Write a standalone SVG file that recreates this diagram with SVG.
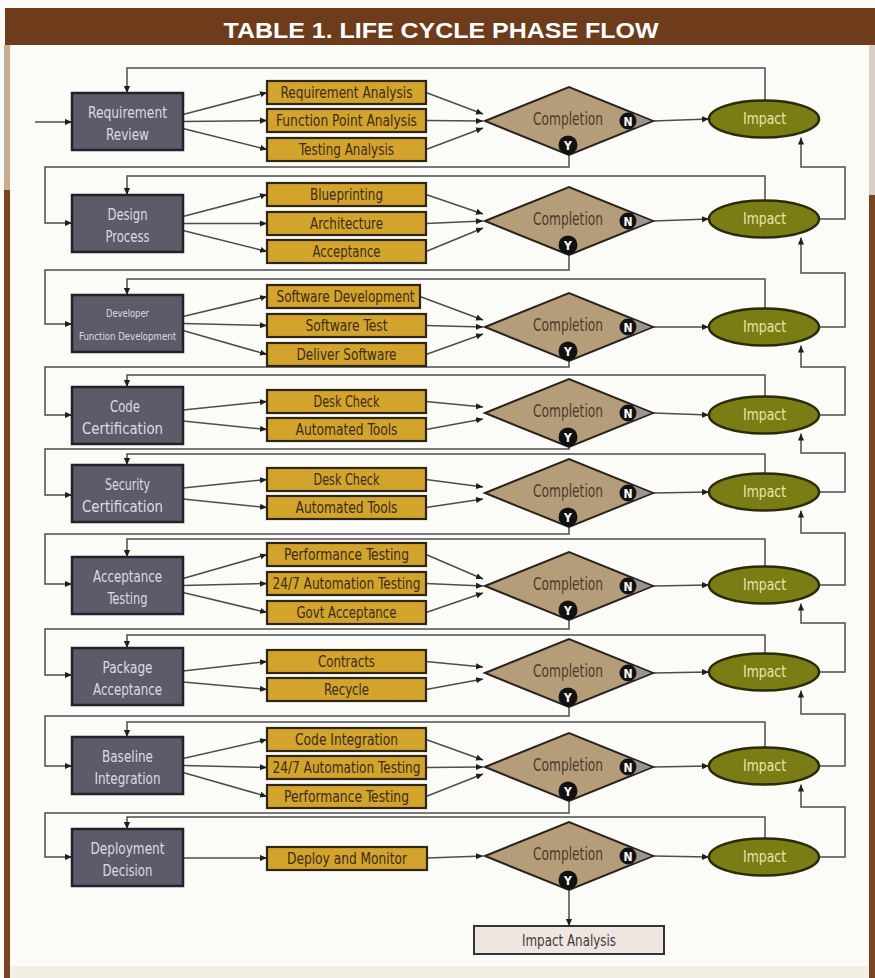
<svg xmlns="http://www.w3.org/2000/svg" width="875" height="978" viewBox="0 0 875 978">
  <defs>
    <style>
      .ph rect { fill: #5d5a6a; stroke: #232228; stroke-width: 2.5; }
      .ph text { fill: #dcdbe4; font-size: 16px; text-anchor: middle; }
      .ph text.sm { font-size: 10px; }
      .tk rect { fill: #d3a42b; stroke: #2e2610; stroke-width: 2.2; }
      .tk text { fill: #3a2b0b; font-size: 16px; text-anchor: middle; }
      .dm polygon { fill: #b69d7a; stroke: #2b241d; stroke-width: 2; }
      .dm polygon.tip { fill: #9a968e; stroke: none; }
      .dm text.lbl { fill: #4a3a26; font-size: 17px; text-anchor: middle; }
      .dm circle { fill: #111111; }
      .dm text.yn { fill: #ffffff; font-size: 12px; font-weight: bold; text-anchor: middle; }
      .ip ellipse { fill: #7a7c14; stroke: #2b2b08; stroke-width: 2.5; }
      .ip text { fill: #ebe6ab; font-size: 16px; text-anchor: middle; }
      .fin rect { fill: #efe7df; stroke: #333333; stroke-width: 2; }
      .fin text { fill: #3a3a3a; font-size: 16px; text-anchor: middle; }
      text { font-family: "Liberation Sans Narrow", "DejaVu Sans Condensed", "Liberation Sans", sans-serif; }
      #connectors path { fill: none; stroke: #4d4d4d; stroke-width: 1.5; }
      #connectors path.ar { marker-end: url(#ah); }
    </style>
    <marker id="ah" viewBox="0 0 8 8" refX="8" refY="4" markerWidth="7" markerHeight="7" markerUnits="userSpaceOnUse" orient="auto">
      <path d="M0,0.5 L8,4 L0,7.5 Z" fill="#1e1e1e"/>
    </marker>
  </defs>

  <!-- page and frame -->
  <rect x="0" y="0" width="875" height="978" fill="#fbfbf8"/>
  <rect x="5" y="8" width="870" height="37" fill="#6e3c1b"/>
  <rect x="4" y="45" width="6" height="145" fill="#c8ab8f"/>
  <rect x="4" y="190" width="6" height="788" fill="#7a4420"/>
  <rect x="869" y="45" width="6" height="150" fill="#d9cfc6"/>
  <rect x="869" y="195" width="6" height="783" fill="#7a4420"/>
  <rect x="10" y="966" width="859" height="12" fill="#f3eee6"/>
  <text x="441" y="38" font-size="22" font-weight="bold" fill="#ffffff" text-anchor="middle" textLength="435" lengthAdjust="spacingAndGlyphs" style="font-family: 'Liberation Sans', sans-serif;">TABLE 1. LIFE CYCLE PHASE FLOW</text>

  <!-- connectors -->
  <g id="connectors">
    <!-- row 1 -->
    <path class="ar" d="M35,122 H72"/>
    <path class="ar" d="M183,114.5 L267,92.5"/>
    <path class="ar" d="M183,121.5 L267,120.5"/>
    <path class="ar" d="M183,128.5 L267,149.5"/>
    <path class="ar" d="M426,92.5 L483,114"/>
    <path class="ar" d="M426,120.5 L483,121"/>
    <path class="ar" d="M426,149.5 L483,128"/>
    <path class="ar" d="M653,121 L709,119"/>
    <path class="ar" d="M765,100.5 V68 H127 V93"/>
    <path class="ar" d="M569,155 V167 H45 V223 H72"/>
    <!-- row 2 -->
    <path class="ar" d="M183,216.5 L267,194.5"/>
    <path class="ar" d="M183,223.5 L267,223.5"/>
    <path class="ar" d="M183,230.5 L267,251.5"/>
    <path class="ar" d="M426,194.5 L483,214"/>
    <path class="ar" d="M426,223.5 L483,221"/>
    <path class="ar" d="M426,251.5 L483,228"/>
    <path class="ar" d="M653,221 L709,219"/>
    <path class="ar" d="M765,200.5 V176 H127 V195"/>
    <path class="ar" d="M569,255 V270 H45 V324 H72"/>
    <path class="ar" d="M819,219 H845 V167 H801 V137.5"/>
    <!-- row 3 -->
    <path class="ar" d="M183,316.5 L267,296.5"/>
    <path class="ar" d="M183,323.5 L267,325.5"/>
    <path class="ar" d="M183,330.5 L267,354.5"/>
    <path class="ar" d="M420,296.5 L483,320"/>
    <path class="ar" d="M426,325.5 L483,327"/>
    <path class="ar" d="M426,354.5 L483,334"/>
    <path class="ar" d="M653,327 L709,327"/>
    <path class="ar" d="M765,308.5 V279 H127 V295"/>
    <path class="ar" d="M569,361 V367 H45 V415 H72"/>
    <path class="ar" d="M819,327 H845 V273 H801 V237.5"/>
    <!-- row 4 -->
    <path class="ar" d="M183,410 L267,401.5"/>
    <path class="ar" d="M183,421 L267,429.5"/>
    <path class="ar" d="M426,401.5 L483,407"/>
    <path class="ar" d="M426,429.5 L483,419"/>
    <path class="ar" d="M653,413 L709,415"/>
    <path class="ar" d="M765,396.5 V375 H127 V387"/>
    <path class="ar" d="M569,447 V449 H45 V495 H72"/>
    <path class="ar" d="M819,415 H845 V367 H801 V345.5"/>
    <!-- row 5 -->
    <path class="ar" d="M183,488 L267,479.5"/>
    <path class="ar" d="M183,499 L267,507.5"/>
    <path class="ar" d="M426,479.5 L483,487"/>
    <path class="ar" d="M426,507.5 L483,499"/>
    <path class="ar" d="M653,493 L709,492"/>
    <path class="ar" d="M765,473.5 V454 H127 V465"/>
    <path class="ar" d="M569,527 V534 H45 V584 H72"/>
    <path class="ar" d="M819,492 H845 V453 H801 V433.5"/>
    <!-- row 6 -->
    <path class="ar" d="M183,578.5 L267,554.5"/>
    <path class="ar" d="M183,585.5 L267,583.5"/>
    <path class="ar" d="M183,592.5 L267,612.5"/>
    <path class="ar" d="M426,554.5 L483,579"/>
    <path class="ar" d="M426,583.5 L483,586"/>
    <path class="ar" d="M426,612.5 L483,593"/>
    <path class="ar" d="M653,586 L709,585"/>
    <path class="ar" d="M765,566.5 V539 H127 V557"/>
    <path class="ar" d="M569,620 V629 H45 V675 H72"/>
    <path class="ar" d="M819,585 H845 V533 H801 V510.5"/>
    <!-- row 7 -->
    <path class="ar" d="M183,671 L267,661.5"/>
    <path class="ar" d="M183,682 L267,689.5"/>
    <path class="ar" d="M426,661.5 L483,667"/>
    <path class="ar" d="M426,689.5 L483,679"/>
    <path class="ar" d="M653,673 L709,672"/>
    <path class="ar" d="M765,653.5 V635 H127 V648"/>
    <path class="ar" d="M569,707 V716 H45 V766 H72"/>
    <path class="ar" d="M819,672 H845 V623 H801 V603.5"/>
    <!-- row 8 -->
    <path class="ar" d="M183,758.5 L267,739.5"/>
    <path class="ar" d="M183,765.5 L267,767.5"/>
    <path class="ar" d="M183,772.5 L267,796.5"/>
    <path class="ar" d="M426,739.5 L483,760"/>
    <path class="ar" d="M426,767.5 L483,767"/>
    <path class="ar" d="M426,796.5 L483,774"/>
    <path class="ar" d="M653,767 L709,766"/>
    <path class="ar" d="M765,747.5 V722 H127 V737"/>
    <path class="ar" d="M569,801 V813 H45 V857 H72"/>
    <path class="ar" d="M819,766 H845 V714 H801 V690.5"/>
    <!-- row 9 -->
    <path class="ar" d="M183,858 H267"/>
    <path class="ar" d="M427,858 L483,856"/>
    <path class="ar" d="M653,856 L709,857"/>
    <path class="ar" d="M765,838.5 V817 H127 V829"/>
    <path class="ar" d="M569,890 V926"/>
    <path class="ar" d="M819,857 H845 V807 H801 V784.5"/>
  </g>

  <!-- phase boxes -->
  <g id="phase-requirement-review" class="ph">
    <rect x="72" y="93" width="111" height="57"/>
    <text x="127.5" y="118" textLength="79" lengthAdjust="spacingAndGlyphs">Requirement</text>
    <text x="127.5" y="140" textLength="43" lengthAdjust="spacingAndGlyphs">Review</text>
  </g>
  <g id="phase-design-process" class="ph">
    <rect x="72" y="195" width="111" height="57"/>
    <text x="127.5" y="220" textLength="40" lengthAdjust="spacingAndGlyphs">Design</text>
    <text x="127.5" y="242" textLength="44" lengthAdjust="spacingAndGlyphs">Process</text>
  </g>
  <g id="phase-developer" class="ph">
    <rect x="72" y="295" width="111" height="57"/>
    <text class="sm" x="127.5" y="316.5" textLength="43" lengthAdjust="spacingAndGlyphs">Developer</text>
    <text class="sm" x="127.5" y="339.5" textLength="97" lengthAdjust="spacingAndGlyphs">Function Development</text>
  </g>
  <g id="phase-code-certification" class="ph">
    <rect x="72" y="387" width="111" height="57"/>
    <text x="125" y="412" textLength="30" lengthAdjust="spacingAndGlyphs">Code</text>
    <text x="122.5" y="434" textLength="81" lengthAdjust="spacingAndGlyphs">Certification</text>
  </g>
  <g id="phase-security-certification" class="ph">
    <rect x="72" y="465" width="111" height="57"/>
    <text x="127.5" y="490" textLength="45" lengthAdjust="spacingAndGlyphs">Security</text>
    <text x="122.5" y="512" textLength="81" lengthAdjust="spacingAndGlyphs">Certification</text>
  </g>
  <g id="phase-acceptance-testing" class="ph">
    <rect x="72" y="557" width="111" height="57"/>
    <text x="127.5" y="582" textLength="69" lengthAdjust="spacingAndGlyphs">Acceptance</text>
    <text x="127.5" y="604" textLength="40" lengthAdjust="spacingAndGlyphs">Testing</text>
  </g>
  <g id="phase-package-acceptance" class="ph">
    <rect x="72" y="648" width="111" height="57"/>
    <text x="127.5" y="673" textLength="50" lengthAdjust="spacingAndGlyphs">Package</text>
    <text x="127.5" y="695" textLength="69" lengthAdjust="spacingAndGlyphs">Acceptance</text>
  </g>
  <g id="phase-baseline-integration" class="ph">
    <rect x="72" y="737" width="111" height="57"/>
    <text x="127.5" y="762" textLength="51" lengthAdjust="spacingAndGlyphs">Baseline</text>
    <text x="127.5" y="784" textLength="66" lengthAdjust="spacingAndGlyphs">Integration</text>
  </g>
  <g id="phase-deployment-decision" class="ph">
    <rect x="72" y="829" width="111" height="57"/>
    <text x="127.5" y="854" textLength="74" lengthAdjust="spacingAndGlyphs">Deployment</text>
    <text x="127.5" y="876" textLength="50" lengthAdjust="spacingAndGlyphs">Decision</text>
  </g>

  <!-- task boxes -->
  <g id="task-requirement-analysis" class="tk"><rect x="267" y="81" width="159" height="23"/><text x="346.5" y="98" textLength="132" lengthAdjust="spacingAndGlyphs">Requirement Analysis</text></g>
  <g id="task-function-point-analysis" class="tk"><rect x="267" y="109" width="159" height="23"/><text x="346.5" y="126" textLength="141" lengthAdjust="spacingAndGlyphs">Function Point Analysis</text></g>
  <g id="task-testing-analysis" class="tk"><rect x="267" y="138" width="159" height="23"/><text x="346.5" y="155" textLength="95" lengthAdjust="spacingAndGlyphs">Testing Analysis</text></g>

  <g id="task-blueprinting" class="tk"><rect x="267" y="183" width="159" height="23"/><text x="346.5" y="200" textLength="73" lengthAdjust="spacingAndGlyphs">Blueprinting</text></g>
  <g id="task-architecture" class="tk"><rect x="267" y="212" width="159" height="23"/><text x="346.5" y="229" textLength="73" lengthAdjust="spacingAndGlyphs">Architecture</text></g>
  <g id="task-acceptance" class="tk"><rect x="267" y="240" width="159" height="23"/><text x="346.5" y="257" textLength="68" lengthAdjust="spacingAndGlyphs">Acceptance</text></g>

  <g id="task-software-development" class="tk"><rect x="267" y="285" width="153" height="23"/><text x="345.5" y="302" textLength="138" lengthAdjust="spacingAndGlyphs">Software Development</text></g>
  <g id="task-software-test" class="tk"><rect x="267" y="314" width="159" height="23"/><text x="346.5" y="331" textLength="82" lengthAdjust="spacingAndGlyphs">Software Test</text></g>
  <g id="task-deliver-software" class="tk"><rect x="267" y="343" width="159" height="23"/><text x="346.5" y="360" textLength="100" lengthAdjust="spacingAndGlyphs">Deliver Software</text></g>

  <g id="task-code-desk-check" class="tk"><rect x="267" y="390" width="159" height="23"/><text x="346.5" y="407" textLength="66" lengthAdjust="spacingAndGlyphs">Desk Check</text></g>
  <g id="task-code-automated-tools" class="tk"><rect x="267" y="418" width="159" height="23"/><text x="346.5" y="435" textLength="102" lengthAdjust="spacingAndGlyphs">Automated Tools</text></g>

  <g id="task-security-desk-check" class="tk"><rect x="267" y="468" width="159" height="23"/><text x="346.5" y="485" textLength="66" lengthAdjust="spacingAndGlyphs">Desk Check</text></g>
  <g id="task-security-automated-tools" class="tk"><rect x="267" y="496" width="159" height="23"/><text x="346.5" y="513" textLength="102" lengthAdjust="spacingAndGlyphs">Automated Tools</text></g>

  <g id="task-acc-performance-testing" class="tk"><rect x="267" y="543" width="159" height="23"/><text x="346.5" y="560" textLength="125" lengthAdjust="spacingAndGlyphs">Performance Testing</text></g>
  <g id="task-acc-automation-testing" class="tk"><rect x="267" y="572" width="159" height="23"/><text x="346.5" y="589" textLength="148" lengthAdjust="spacingAndGlyphs">24/7 Automation Testing</text></g>
  <g id="task-govt-acceptance" class="tk"><rect x="267" y="601" width="159" height="23"/><text x="346.5" y="618" textLength="100" lengthAdjust="spacingAndGlyphs">Govt Acceptance</text></g>

  <g id="task-contracts" class="tk"><rect x="267" y="650" width="159" height="23"/><text x="346.5" y="667" textLength="57" lengthAdjust="spacingAndGlyphs">Contracts</text></g>
  <g id="task-recycle" class="tk"><rect x="267" y="678" width="159" height="23"/><text x="346.5" y="695" textLength="45" lengthAdjust="spacingAndGlyphs">Recycle</text></g>

  <g id="task-code-integration" class="tk"><rect x="267" y="728" width="159" height="23"/><text x="346.5" y="745" textLength="103" lengthAdjust="spacingAndGlyphs">Code Integration</text></g>
  <g id="task-bl-automation-testing" class="tk"><rect x="267" y="756" width="159" height="23"/><text x="346.5" y="773" textLength="148" lengthAdjust="spacingAndGlyphs">24/7 Automation Testing</text></g>
  <g id="task-bl-performance-testing" class="tk"><rect x="267" y="785" width="159" height="23"/><text x="346.5" y="802" textLength="125" lengthAdjust="spacingAndGlyphs">Performance Testing</text></g>

  <g id="task-deploy-and-monitor" class="tk"><rect x="267" y="847" width="160" height="23"/><text x="347" y="864" textLength="120" lengthAdjust="spacingAndGlyphs">Deploy and Monitor</text></g>

  <!-- completion decisions: diamond, grey tip behind the N badge, Y badge at the bottom -->
  <g id="completion-1" class="dm"><polygon points="485,121 569,87 653,121 569,155"/><polygon class="tip" points="634,114 651,121 634,128"/><text class="lbl" x="568" y="125" textLength="70" lengthAdjust="spacingAndGlyphs">Completion</text><circle cx="628" cy="121" r="8.5"/><text class="yn" x="628" y="125.5">N</text><circle cx="568" cy="145" r="9.5"/><text class="yn" x="568" y="149.5">Y</text></g>
  <g id="completion-2" class="dm"><polygon points="485,221 569,187 653,221 569,255"/><polygon class="tip" points="634,214 651,221 634,228"/><text class="lbl" x="568" y="225" textLength="70" lengthAdjust="spacingAndGlyphs">Completion</text><circle cx="628" cy="221" r="8.5"/><text class="yn" x="628" y="225.5">N</text><circle cx="568" cy="245" r="9.5"/><text class="yn" x="568" y="249.5">Y</text></g>
  <g id="completion-3" class="dm"><polygon points="485,327 569,293 653,327 569,361"/><polygon class="tip" points="634,320 651,327 634,334"/><text class="lbl" x="568" y="331" textLength="70" lengthAdjust="spacingAndGlyphs">Completion</text><circle cx="628" cy="327" r="8.5"/><text class="yn" x="628" y="331.5">N</text><circle cx="568" cy="351" r="9.5"/><text class="yn" x="568" y="355.5">Y</text></g>
  <g id="completion-4" class="dm"><polygon points="485,413 569,379 653,413 569,447"/><polygon class="tip" points="634,406 651,413 634,420"/><text class="lbl" x="568" y="417" textLength="70" lengthAdjust="spacingAndGlyphs">Completion</text><circle cx="628" cy="413" r="8.5"/><text class="yn" x="628" y="417.5">N</text><circle cx="568" cy="437" r="9.5"/><text class="yn" x="568" y="441.5">Y</text></g>
  <g id="completion-5" class="dm"><polygon points="485,493 569,459 653,493 569,527"/><polygon class="tip" points="634,486 651,493 634,500"/><text class="lbl" x="568" y="497" textLength="70" lengthAdjust="spacingAndGlyphs">Completion</text><circle cx="628" cy="493" r="8.5"/><text class="yn" x="628" y="497.5">N</text><circle cx="568" cy="517" r="9.5"/><text class="yn" x="568" y="521.5">Y</text></g>
  <g id="completion-6" class="dm"><polygon points="485,586 569,552 653,586 569,620"/><polygon class="tip" points="634,579 651,586 634,593"/><text class="lbl" x="568" y="590" textLength="70" lengthAdjust="spacingAndGlyphs">Completion</text><circle cx="628" cy="586" r="8.5"/><text class="yn" x="628" y="590.5">N</text><circle cx="568" cy="610" r="9.5"/><text class="yn" x="568" y="614.5">Y</text></g>
  <g id="completion-7" class="dm"><polygon points="485,673 569,639 653,673 569,707"/><polygon class="tip" points="634,666 651,673 634,680"/><text class="lbl" x="568" y="677" textLength="70" lengthAdjust="spacingAndGlyphs">Completion</text><circle cx="628" cy="673" r="8.5"/><text class="yn" x="628" y="677.5">N</text><circle cx="568" cy="697" r="9.5"/><text class="yn" x="568" y="701.5">Y</text></g>
  <g id="completion-8" class="dm"><polygon points="485,767 569,733 653,767 569,801"/><polygon class="tip" points="634,760 651,767 634,774"/><text class="lbl" x="568" y="771" textLength="70" lengthAdjust="spacingAndGlyphs">Completion</text><circle cx="628" cy="767" r="8.5"/><text class="yn" x="628" y="771.5">N</text><circle cx="568" cy="791" r="9.5"/><text class="yn" x="568" y="795.5">Y</text></g>
  <g id="completion-9" class="dm"><polygon points="485,856 569,822 653,856 569,890"/><polygon class="tip" points="634,849 651,856 634,863"/><text class="lbl" x="568" y="860" textLength="70" lengthAdjust="spacingAndGlyphs">Completion</text><circle cx="628" cy="856" r="8.5"/><text class="yn" x="628" y="860.5">N</text><circle cx="568" cy="880" r="9.5"/><text class="yn" x="568" y="884.5">Y</text></g>

  <!-- impact nodes -->
  <g id="impact-1" class="ip"><ellipse cx="764" cy="119" rx="55" ry="18.5"/><text x="764.5" y="124" textLength="43" lengthAdjust="spacingAndGlyphs">Impact</text></g>
  <g id="impact-2" class="ip"><ellipse cx="764" cy="219" rx="55" ry="18.5"/><text x="764.5" y="224" textLength="43" lengthAdjust="spacingAndGlyphs">Impact</text></g>
  <g id="impact-3" class="ip"><ellipse cx="764" cy="327" rx="55" ry="18.5"/><text x="764.5" y="332" textLength="43" lengthAdjust="spacingAndGlyphs">Impact</text></g>
  <g id="impact-4" class="ip"><ellipse cx="764" cy="415" rx="55" ry="18.5"/><text x="764.5" y="420" textLength="43" lengthAdjust="spacingAndGlyphs">Impact</text></g>
  <g id="impact-5" class="ip"><ellipse cx="764" cy="492" rx="55" ry="18.5"/><text x="764.5" y="497" textLength="43" lengthAdjust="spacingAndGlyphs">Impact</text></g>
  <g id="impact-6" class="ip"><ellipse cx="764" cy="585" rx="55" ry="18.5"/><text x="764.5" y="590" textLength="43" lengthAdjust="spacingAndGlyphs">Impact</text></g>
  <g id="impact-7" class="ip"><ellipse cx="764" cy="672" rx="55" ry="18.5"/><text x="764.5" y="677" textLength="43" lengthAdjust="spacingAndGlyphs">Impact</text></g>
  <g id="impact-8" class="ip"><ellipse cx="764" cy="766" rx="55" ry="18.5"/><text x="764.5" y="771" textLength="43" lengthAdjust="spacingAndGlyphs">Impact</text></g>
  <g id="impact-9" class="ip"><ellipse cx="764" cy="857" rx="55" ry="18.5"/><text x="764.5" y="862" textLength="43" lengthAdjust="spacingAndGlyphs">Impact</text></g>

  <!-- final step -->
  <g id="impact-analysis" class="fin">
    <rect x="474" y="926" width="190" height="28"/>
    <text x="569" y="946" textLength="94" lengthAdjust="spacingAndGlyphs">Impact Analysis</text>
  </g>
</svg>
